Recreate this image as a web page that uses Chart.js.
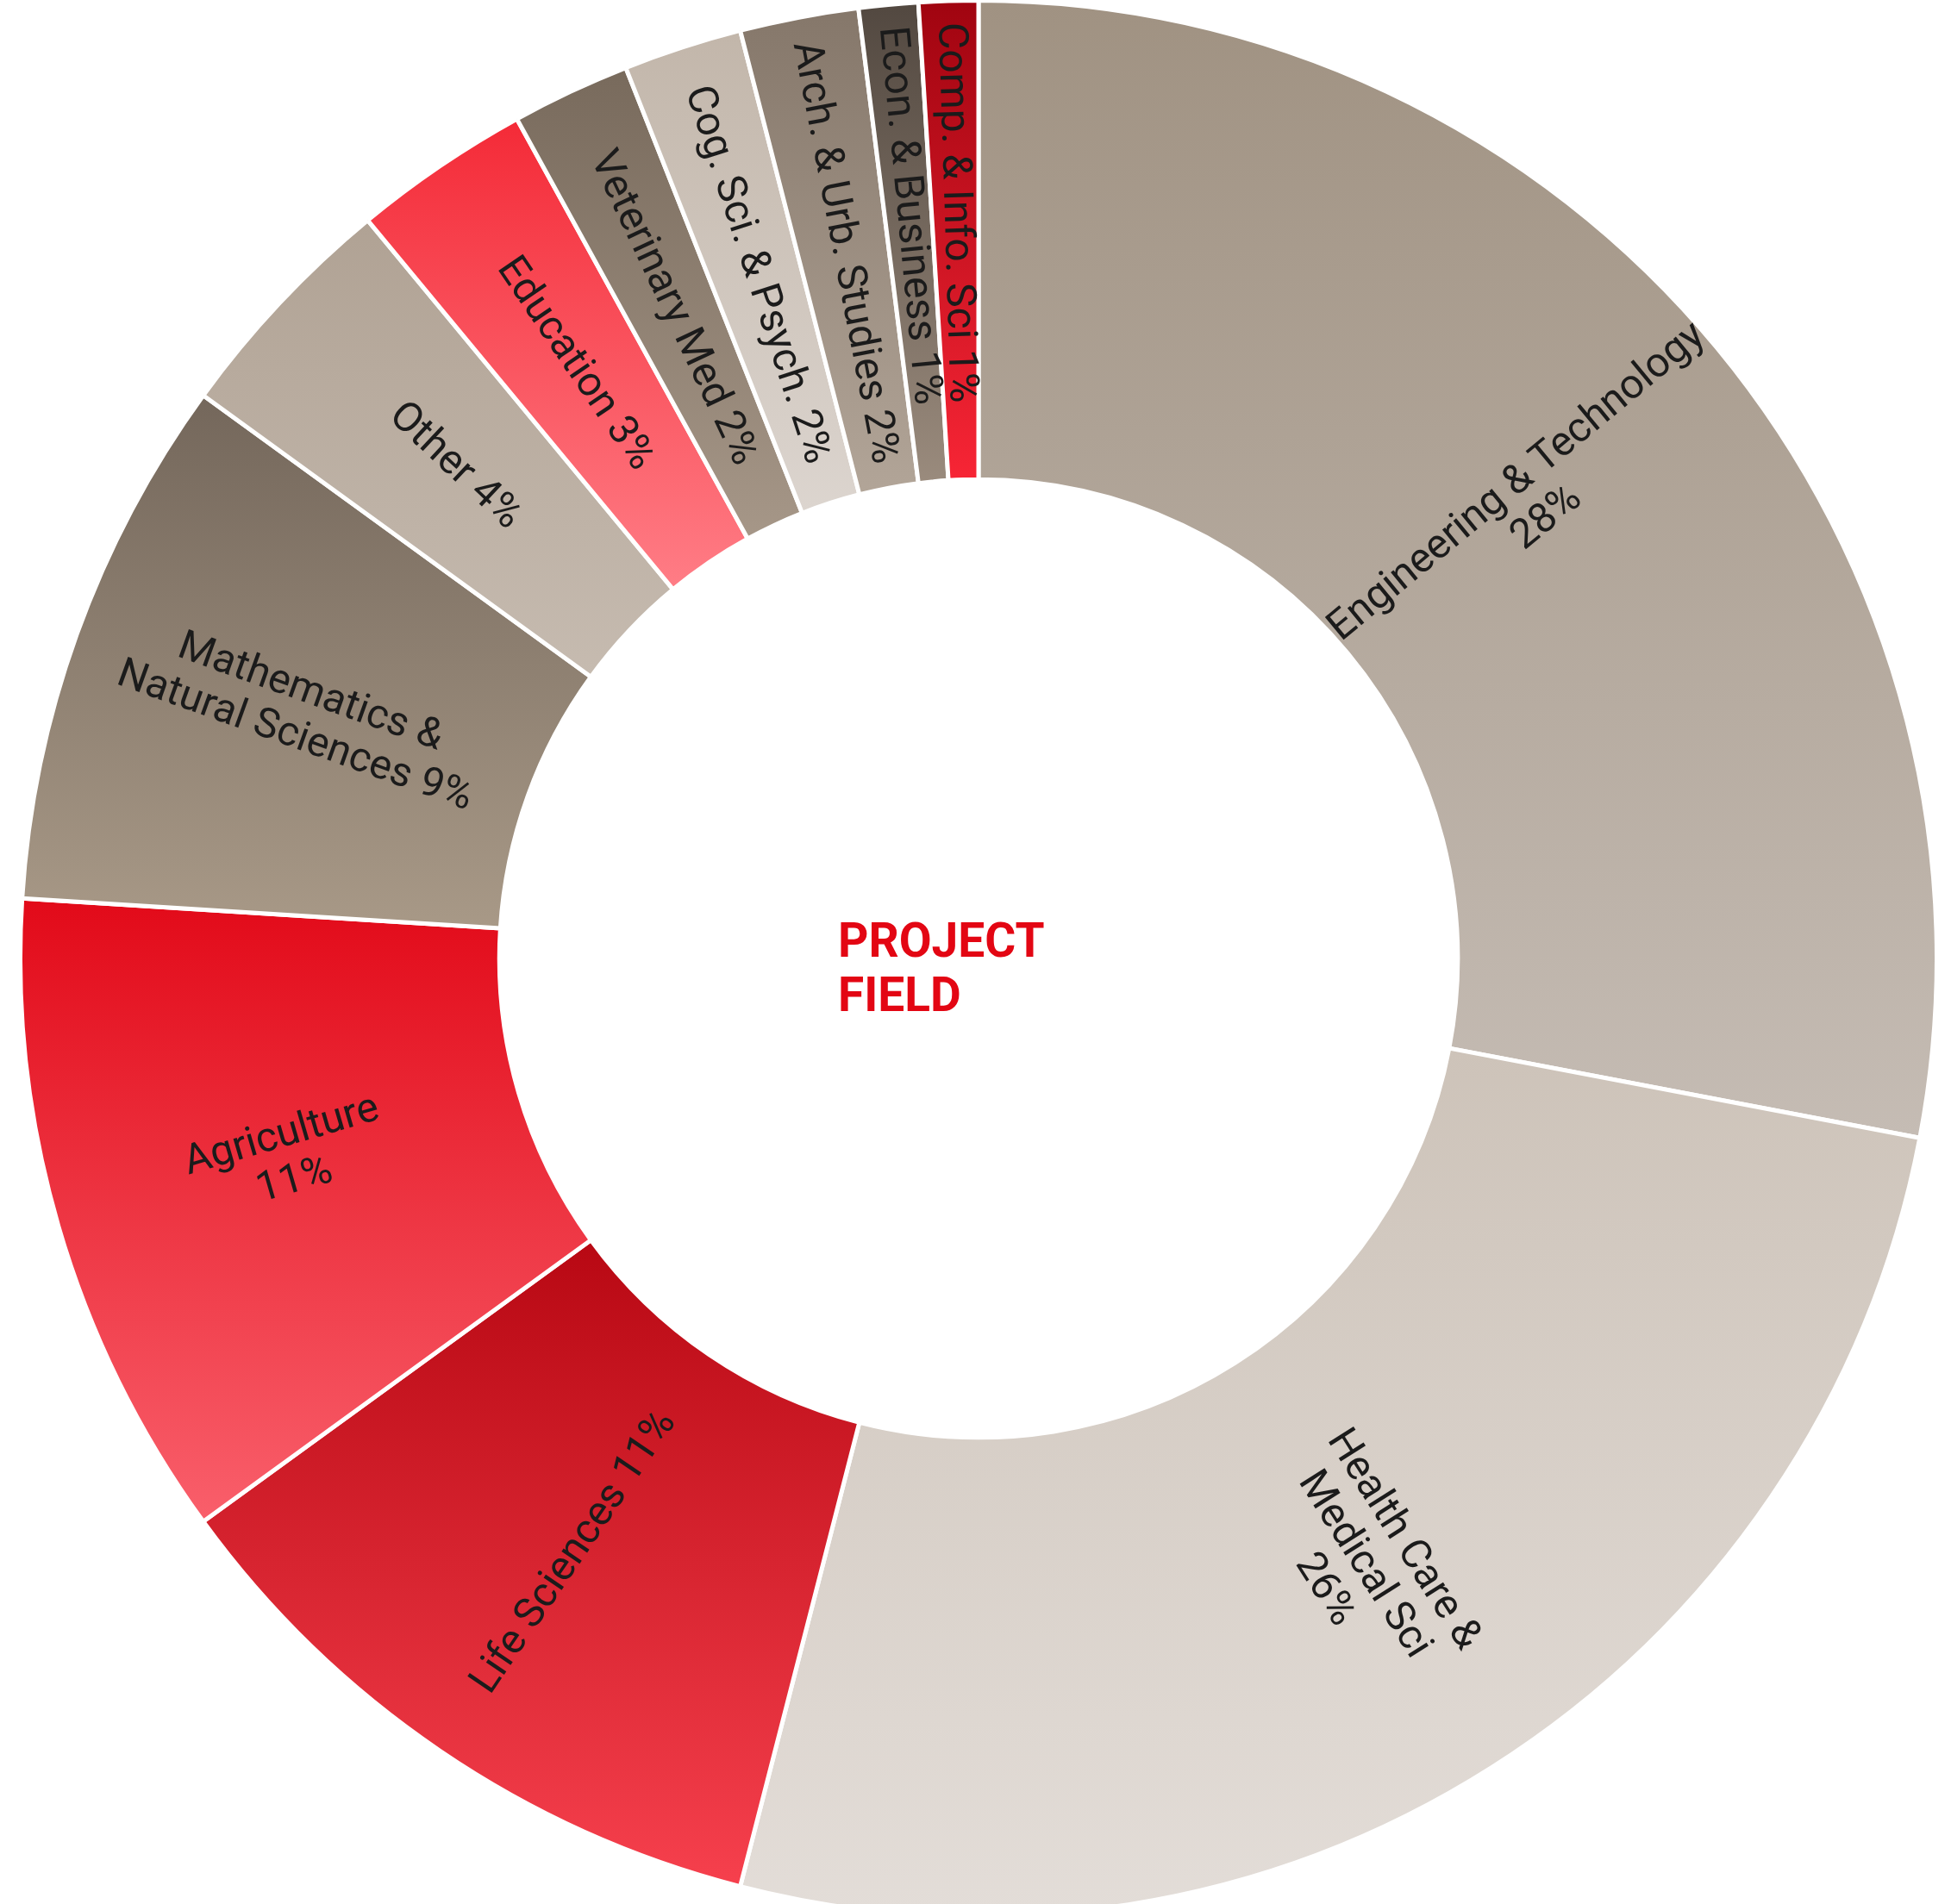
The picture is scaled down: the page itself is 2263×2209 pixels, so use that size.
<!DOCTYPE html>
<html>
<head>
<meta charset="utf-8">
<script src="https://cdn.jsdelivr.net/npm/chart.js@4.4.1/dist/chart.umd.min.js"></script>
<style>
  html, body { margin: 0; padding: 0; background: #fff; overflow: hidden; width: 2263px; height: 2209px; }
  #wrap { position: absolute; left: 21px; top: -2px; width: 2228px; height: 2228px; }
</style>
</head>
<body>
<div id="wrap"><canvas id="campo"></canvas></div>
<script>
// categorias, no sentido horário a partir do topo
const categorias = [
  'Engineering & Technology', 'Health Care & Medical Sci', 'Life Sciences', 'Agriculture',
  'Mathematics & Natural Sciences', 'Other', 'Education', 'Veterinary Med',
  'Cog. Sci. & Psych.', 'Arch. & Urb. Studies', 'Econ. & Business', 'Comp. & Info. Sci'
];
const percentuais = [28, 26, 11, 11, 9, 4, 3, 2, 2, 2, 1, 1];

// como cada rótulo quebra em linhas ({p} = percentual)
const linhasRotulo = [
  ['Engineering & Technology', '{p}'],
  ['Health Care &', 'Medical Sci', '{p}'],
  ['Life Sciences {p}'],
  ['Agriculture', '{p}'],
  ['Mathematics &', 'Natural Sciences {p}'],
  ['Other {p}'],
  ['Education {p}'],
  ['Veterinary Med {p}'],
  ['Cog. Sci. & Psych. {p}'],
  ['Arch. & Urb. Studies {p}'],
  ['Econ. & Business {p}'],
  ['Comp. & Info. Sci {p}']
];
const tituloCentro = ['PROJECT', 'FIELD'];

// cores do degradê (topo -> base de cada fatia)
const corTopo = ['#a09282', '#cdc3b9', '#b80813', '#e20a19', '#74675b', '#b0a294',
                 '#f42a37', '#786a5c', '#c2b6aa', '#85776a', '#524840', '#a00410'];
const corBase = ['#c5bcb4', '#e3ddd8', '#f6404d', '#f95f6b', '#a89987', '#c6bbb0',
                 '#ff7d86', '#a69788', '#dcd5cf', '#b2a598', '#9a8b7d', '#f72535'];

const BORDA = 5;
const CORTE = 0.5;

// degradê vertical que cobre só a altura da fatia
function degradeFatia(context) {
  const i = context.dataIndex;
  const chart = context.chart;
  const area = chart.chartArea;
  if (!area || i === undefined) return corTopo[i || 0];
  const cx = (area.left + area.right) / 2;
  const cy = (area.top + area.bottom) / 2;
  const ro = (Math.min(area.right - area.left, area.bottom - area.top) - BORDA) / 2;
  const ri = ro * CORTE;
  const total = percentuais.reduce((a, b) => a + b, 0);
  const antes = percentuais.slice(0, i).reduce((a, b) => a + b, 0);
  const a0 = -Math.PI / 2 + antes / total * 2 * Math.PI;
  const a1 = a0 + percentuais[i] / total * 2 * Math.PI;
  let yMin = Infinity, yMax = -Infinity;
  for (let k = 0; k <= 60; k++) {
    const a = a0 + (a1 - a0) * k / 60;
    [ri, ro].forEach(r => {
      const y = cy + r * Math.sin(a);
      yMin = Math.min(yMin, y);
      yMax = Math.max(yMax, y);
    });
  }
  const g = chart.ctx.createLinearGradient(0, yMin, 0, yMax);
  g.addColorStop(0, corTopo[i]);
  g.addColorStop(1, corBase[i]);
  return g;
}

// rótulos girados na direção do raio + título no meio
const rotulosPlugin = {
  id: 'rotulos',
  afterDatasetsDraw(chart) {
    const ctx = chart.ctx;
    const meta = chart.getDatasetMeta(0);
    let centro = null;
    ctx.save();
    ctx.font = '400 48px Roboto';
    ctx.fillStyle = '#1b1b1b';
    ctx.textAlign = 'center';
    ctx.textBaseline = 'middle';
    meta.data.forEach((arc, i) => {
      const p = arc.getProps(['x', 'y', 'startAngle', 'endAngle', 'innerRadius', 'outerRadius'], true);
      centro = p;
      const meio = (p.startAngle + p.endAngle) / 2;
      let r = (p.innerRadius + p.outerRadius) / 2;
      if (percentuais[i] <= 1) r += 32; // as fatias finas empurram o texto pra fora
      const x = p.x + Math.cos(meio) * r;
      const y = p.y + Math.sin(meio) * r;
      const rot = Math.cos(meio) >= 0 ? meio : meio + Math.PI;
      const linhas = linhasRotulo[i].map(l => l.replace('{p}', percentuais[i] + '%'));
      const lh = 54;
      ctx.save();
      ctx.translate(x, y);
      ctx.rotate(rot);
      linhas.forEach((l, k) => ctx.fillText(l, 0, (k - (linhas.length - 1) / 2) * lh));
      ctx.restore();
    });

    if (centro) {
      ctx.font = 'bold 55px Roboto';
      ctx.fillStyle = '#e30613';
      ctx.textAlign = 'left';
      ctx.textBaseline = 'alphabetic';
      ctx.fillText(tituloCentro[0], centro.x - 163, centro.y - 2);
      ctx.fillText(tituloCentro[1], centro.x - 163, centro.y + 61);
    }
    ctx.restore();
  }
};

const grafico = new Chart(document.getElementById('campo'), {
  type: 'doughnut',
  data: {
    labels: categorias,
    datasets: [{
      data: percentuais,
      backgroundColor: degradeFatia,
      borderColor: '#ffffff',
      borderWidth: BORDA
    }]
  },
  options: {
    responsive: true,
    maintainAspectRatio: false,
    animation: false,
    events: [],
    cutout: (CORTE * 100) + '%',
    layout: { padding: 0 },
    plugins: {
      legend: { display: false },
      tooltip: { enabled: false },
      title: { display: false }
    }
  },
  plugins: [rotulosPlugin]
});
</script>
</body>
</html>
